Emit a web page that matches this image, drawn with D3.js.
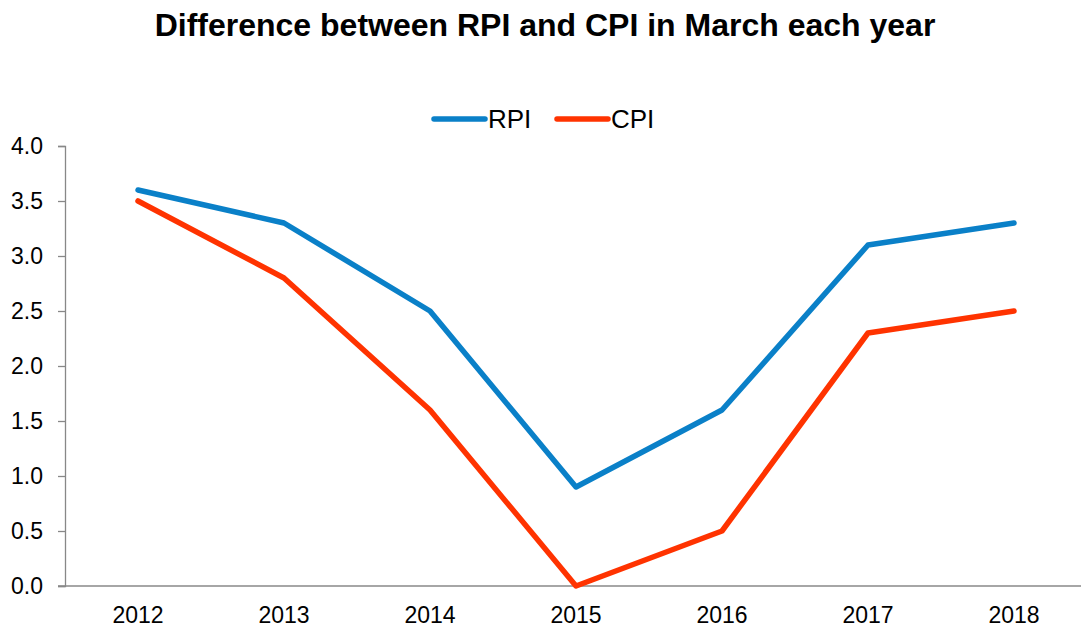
<!DOCTYPE html>
<html>
<head>
<meta charset="utf-8">
<script src="https://cdn.jsdelivr.net/npm/d3@7"></script>
<style>
  body { margin: 0; background: #fff; }
  svg { display: block; font-family: "Liberation Sans", Arial, sans-serif; }
</style>
</head>
<body>
<div id="chart"></div>
<script>
var years = ['2012', '2013', '2014', '2015', '2016', '2017', '2018'];
var rpi = [3.6, 3.3, 2.5, 0.9, 1.6, 3.1, 3.3];
var cpi = [3.5, 2.8, 1.6, 0.0, 0.5, 2.3, 2.5];
var yTicks = [0, 0.5, 1, 1.5, 2, 2.5, 3, 3.5, 4];

var W = 1081, H = 629;
var LEFT = 65, RIGHT = 1087, TOP = 146, BOTTOM = 586;
var AXIS_COLOR = '#888888';
var FONT = '"Liberation Sans", Arial, sans-serif';

var series = [
  { name: 'RPI', values: rpi, color: '#0A80C8' },
  { name: 'CPI', values: cpi, color: '#FF3300' }
];

var svg = d3.select('#chart').append('svg')
  .attr('width', W)
  .attr('height', H);

var x = d3.scaleBand().domain(years).range([LEFT, RIGHT]);
var y = d3.scaleLinear().domain([0, 4]).range([BOTTOM, TOP]);

// title
svg.append('text')
  .attr('x', 545)
  .attr('y', 36)
  .attr('text-anchor', 'middle')
  .attr('font-size', '32px')
  .attr('font-weight', 'bold')
  .attr('fill', '#000')
  .text('Difference between RPI and CPI in March each year');

// y axis
var yAxis = svg.append('g')
  .attr('transform', 'translate(' + LEFT + ',0)')
  .call(d3.axisLeft(y).tickValues(yTicks).tickFormat(d3.format('.1f')).tickSize(7).tickPadding(15));
yAxis.select('.domain').attr('stroke', AXIS_COLOR).attr('stroke-width', 1.3);
yAxis.selectAll('.tick line').attr('stroke', AXIS_COLOR).attr('stroke-width', 1.3);
yAxis.selectAll('.tick text')
  .attr('font-size', '23px')
  .attr('font-family', FONT)
  .attr('fill', '#000');

// x axis
var xAxis = svg.append('g')
  .attr('transform', 'translate(0,' + BOTTOM + ')')
  .call(d3.axisBottom(x).tickSize(0).tickPadding(21).tickSizeOuter(0));
xAxis.select('.domain').remove();
xAxis.append('line')
  .attr('x1', LEFT - 7)
  .attr('x2', RIGHT)
  .attr('stroke', AXIS_COLOR)
  .attr('stroke-width', 1.3);
xAxis.selectAll('.tick text')
  .attr('font-size', '23px')
  .attr('font-family', FONT)
  .attr('fill', '#000');

// lines
var line = d3.line()
  .x(function(d, i) { return x(years[i]) + x.bandwidth() / 2; })
  .y(function(d) { return y(d); });

series.forEach(function(s) {
  svg.append('path')
    .datum(s.values)
    .attr('d', line)
    .attr('fill', 'none')
    .attr('stroke', s.color)
    .attr('stroke-width', 5.5)
    .attr('stroke-linejoin', 'round')
    .attr('stroke-linecap', 'round');
});

// legend
var legendPos = [432, 555];
series.forEach(function(s, i) {
  var g = svg.append('g').attr('transform', 'translate(' + legendPos[i] + ',119)');
  g.append('line')
    .attr('x1', 2).attr('x2', 53)
    .attr('stroke', s.color)
    .attr('stroke-width', 5.5)
    .attr('stroke-linecap', 'round');
  g.append('text')
    .attr('x', 56)
    .attr('y', 9)
    .attr('font-size', '26px')
    .attr('fill', '#000')
    .text(s.name);
});
</script>
</body>
</html>
